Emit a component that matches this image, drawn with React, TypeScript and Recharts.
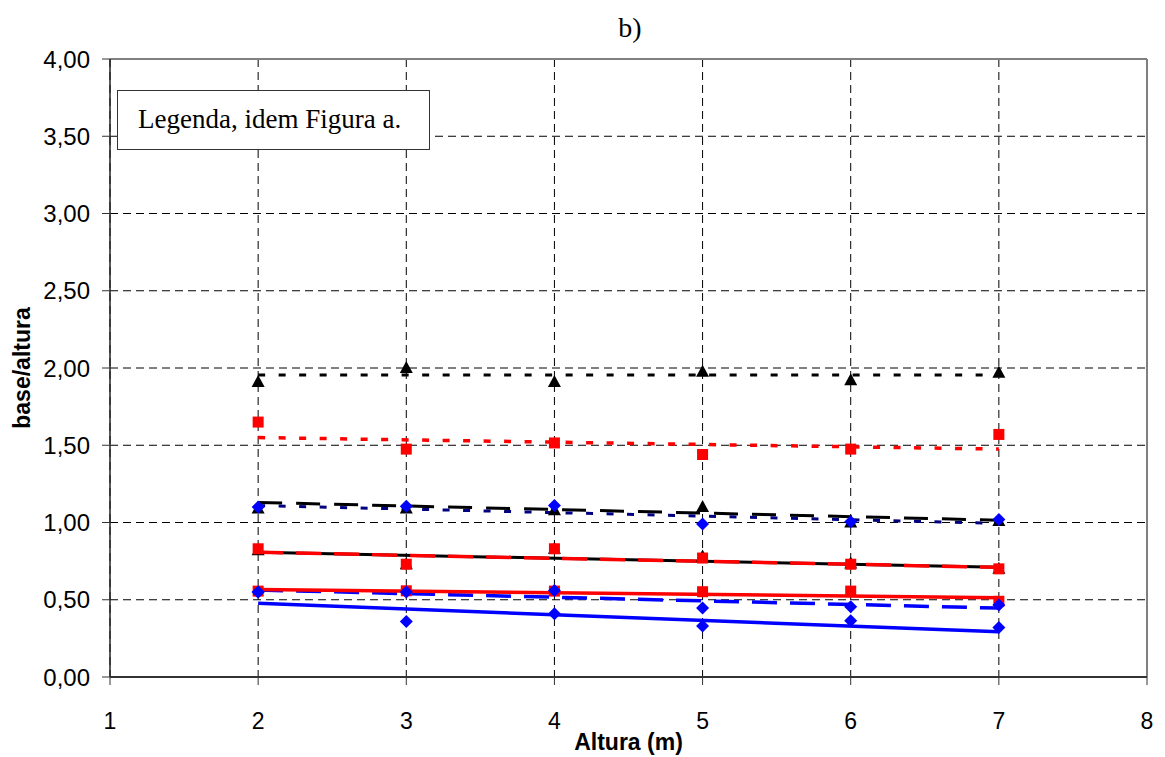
import React from "react";
import {
  ComposedChart,
  Line,
  Scatter,
  XAxis,
  YAxis,
  CartesianGrid,
  ReferenceLine,
} from "recharts";

// alturas (m)
const alturas = [2, 3, 4, 5, 6, 7];
const trendEnds = [2, 7];
const xTicks = [1, 2, 3, 4, 5, 6, 7, 8];
const yTicks = [0, 0.5, 1, 1.5, 2, 2.5, 3, 3.5, 4];

// pontos (base/altura)
const triTop = [1.91, 2.0, 1.91, 1.975, 1.92, 1.97];
const sqTop = [1.65, 1.475, 1.515, 1.44, 1.475, 1.57];
const triMid = [1.09, 1.09, 1.08, 1.1, 1.0, 1.01];
const diaMid = [1.1, 1.105, 1.11, 0.99, 1.005, 1.02];
const triLow = [0.82, 0.73, 0.83, 0.78, 0.735, 0.7];
const sqMid = [0.83, 0.73, 0.83, 0.77, 0.73, 0.7];
const sqLow = [0.556, 0.558, 0.556, 0.552, 0.556, 0.49];
const diaDash = [0.55, 0.55, 0.56, 0.446, 0.455, 0.466];
const diaLow = [0.55, 0.36, 0.41, 0.33, 0.364, 0.32];

// linhas de tendência (valor em x=2 e x=7)
const trTriTop = [1.955, 1.955];
const trSqTop = [1.55, 1.475];
const trTriMid = [1.13, 1.015];
const trDiaMid = [1.11, 0.995];
const trTriLow = [0.807, 0.71];
const trSqMid = [0.807, 0.71];
const trSqLow = [0.567, 0.513];
const trDiaDash = [0.563, 0.446];
const trDiaLow = [0.477, 0.293];

const pts = (ys: number[]) => alturas.map((x, i) => ({ x, y: ys[i] }));
const trend = (ys: number[]) => trendEnds.map((x, i) => ({ x, y: ys[i] }));

const fmt = (v: number) => v.toFixed(2).replace(".", ",");

const Triangle = (p: any) => (
  <polygon
    points={`${p.cx},${p.cy - 7} ${p.cx + 6.5},${p.cy + 5} ${p.cx - 6.5},${p.cy + 5}`}
    fill="#000"
  />
);
const Square = (p: any) => (
  <rect x={p.cx - 5.5} y={p.cy - 5.5} width={11} height={11} fill="#ff0000" />
);
const Diamond = (p: any) => (
  <polygon
    points={`${p.cx},${p.cy - 6.5} ${p.cx + 6.5},${p.cy} ${p.cx},${p.cy + 6.5} ${p.cx - 6.5},${p.cy}`}
    fill="#0000ff"
  />
);

const sans = "Arial, 'Liberation Sans', sans-serif";
const serif = "'Times New Roman', 'Liberation Serif', serif";

export default function App() {
  return (
    <div style={{ position: "relative", width: 1157, height: 749 }}>
      <ComposedChart
        width={1157}
        height={749}
        margin={{ top: 51, right: 18, left: 22, bottom: 20 }}
      >
        <CartesianGrid stroke="#000" strokeDasharray="8 5" strokeWidth={1} />
        <XAxis
          dataKey="x"
          type="number"
          domain={[1, 8]}
          ticks={xTicks}
          height={60}
          tickSize={8}
          tickMargin={28}
          axisLine={{ stroke: "#333", strokeWidth: 2 }}
          tickLine={{ stroke: "#333" }}
          tick={{ fill: "#000", fontSize: 23, fontFamily: sans }}
          label={{
            value: "Altura (m)",
            position: "insideBottom",
            offset: -13,
            style: { fontFamily: sans, fontSize: 23, fontWeight: "bold", fill: "#000" },
          }}
        />
        <YAxis
          type="number"
          domain={[0, 4]}
          ticks={yTicks}
          width={80}
          tickSize={8}
          tickMargin={12}
          tickFormatter={fmt}
          axisLine={{ stroke: "#222", strokeWidth: 1.5 }}
          tickLine={{ stroke: "#333" }}
          tick={{ fill: "#000", fontSize: 24, fontFamily: sans }}
          label={{
            value: "base/altura",
            angle: -90,
            position: "insideLeft",
            offset: -8,
            style: {
              fontFamily: sans,
              fontSize: 23,
              fontWeight: "bold",
              fill: "#000",
              textAnchor: "middle",
            },
          }}
        />
        <ReferenceLine y={4} stroke="#808080" strokeWidth={2} />
        <ReferenceLine x={8} stroke="#808080" strokeWidth={2} />

        <Line data={trend(trTriTop)} dataKey="y" stroke="#000" strokeWidth={3} strokeDasharray="7 13.5" dot={false} isAnimationActive={false} />
        <Line data={trend(trSqTop)} dataKey="y" stroke="#ff0000" strokeWidth={3.5} strokeDasharray="7 13.5" dot={false} isAnimationActive={false} />
        <Line data={trend(trTriMid)} dataKey="y" stroke="#000" strokeWidth={3} strokeDasharray="24 14" dot={false} isAnimationActive={false} />
        <Line data={trend(trDiaMid)} dataKey="y" stroke="#000080" strokeWidth={3} strokeDasharray="7 13.5" dot={false} isAnimationActive={false} />
        <Line data={trend(trTriLow)} dataKey="y" stroke="#000" strokeWidth={3} dot={false} isAnimationActive={false} />
        <Line data={trend(trSqMid)} dataKey="y" stroke="#ff0000" strokeWidth={3.5} strokeDasharray="25 13" dot={false} isAnimationActive={false} />
        <Line data={trend(trDiaDash)} dataKey="y" stroke="#0000ff" strokeWidth={3.5} strokeDasharray="25 13" dot={false} isAnimationActive={false} />
        <Line data={trend(trSqLow)} dataKey="y" stroke="#ff0000" strokeWidth={3.5} dot={false} isAnimationActive={false} />
        <Line data={trend(trDiaLow)} dataKey="y" stroke="#0000ff" strokeWidth={3.5} dot={false} isAnimationActive={false} />

        <Scatter data={pts(triTop)} dataKey="y" shape={Triangle} isAnimationActive={false} />
        <Scatter data={pts(triMid)} dataKey="y" shape={Triangle} isAnimationActive={false} />
        <Scatter data={pts(triLow)} dataKey="y" shape={Triangle} isAnimationActive={false} />
        <Scatter data={pts(sqTop)} dataKey="y" shape={Square} isAnimationActive={false} />
        <Scatter data={pts(sqMid)} dataKey="y" shape={Square} isAnimationActive={false} />
        <Scatter data={pts(sqLow)} dataKey="y" shape={Square} isAnimationActive={false} />
        <Scatter data={pts(diaMid)} dataKey="y" shape={Diamond} isAnimationActive={false} />
        <Scatter data={pts(diaDash)} dataKey="y" shape={Diamond} isAnimationActive={false} />
        <Scatter data={pts(diaLow)} dataKey="y" shape={Diamond} isAnimationActive={false} />
      </ComposedChart>

      <div
        style={{
          position: "absolute",
          left: 582,
          top: 2,
          width: 80,
          textAlign: "center",
          fontFamily: serif,
          fontSize: 28,
          lineHeight: "36px",
        }}
      >
        b)
      </div>
      <div
        style={{
          position: "absolute",
          left: 109,
          top: 82,
          width: 313,
          height: 60,
          boxSizing: "border-box",
          border: "1.5px solid #333",
          background: "#fff",
          fontFamily: serif,
          fontSize: 27,
          lineHeight: "57px",
          paddingLeft: 20,
          whiteSpace: "nowrap",
        }}
      >
        Legenda, idem Figura a.
      </div>
    </div>
  );
}
